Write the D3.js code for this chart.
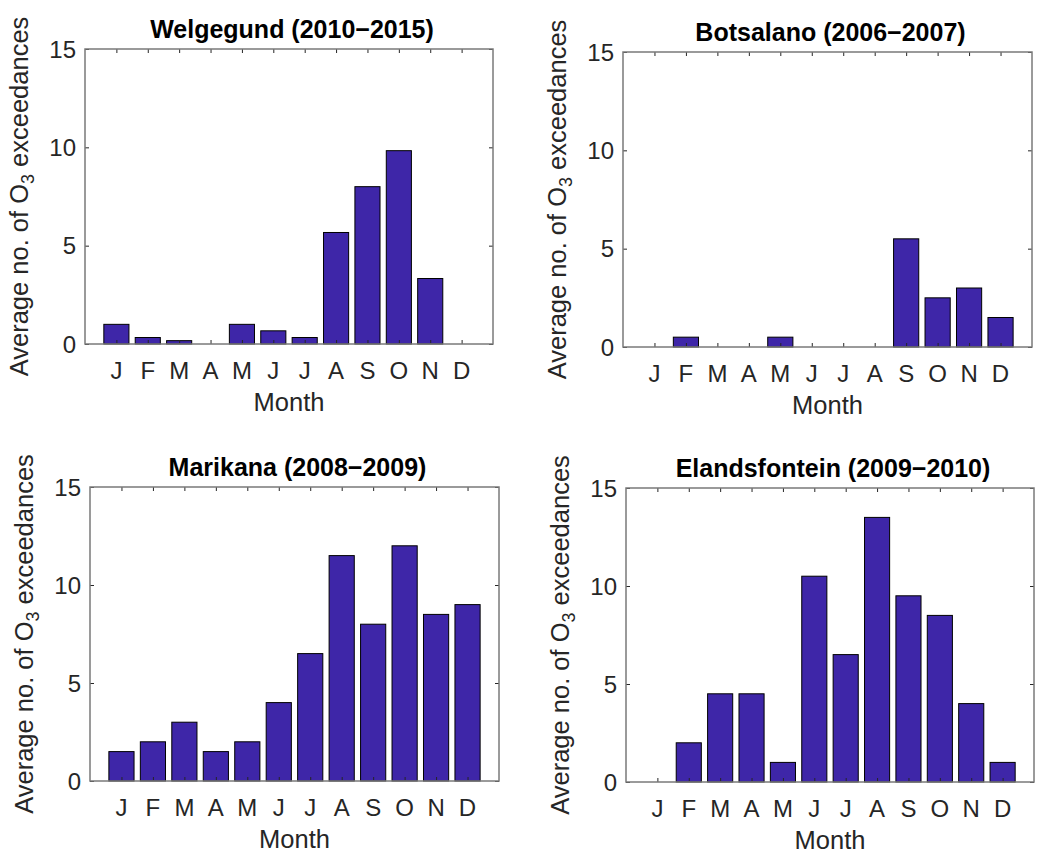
<!DOCTYPE html>
<html>
<head>
<meta charset="utf-8">
<script src="https://cdn.jsdelivr.net/npm/d3@7"></script>
<style>
  html, body { margin: 0; padding: 0; background: #fff; }
  svg { display: block; }
  text { font-family: "Liberation Sans", Arial, Helvetica, sans-serif; }
</style>
</head>
<body>
<svg id="chart" width="1050" height="861"></svg>
<script>
// ---- data ----
const months = ["J","F","M","A","M","J","J","A","S","O","N","D"];
const welgegund     = [1, 0.33, 0.17, 0, 1, 0.67, 0.33, 5.67, 8, 9.83, 3.33, 0];
const botsalano     = [0, 0.5, 0, 0, 0.5, 0, 0, 0, 5.5, 2.5, 3, 1.5];
const marikana      = [1.5, 2, 3, 1.5, 2, 4, 6.5, 11.5, 8, 12, 8.5, 9];
const elandsfontein = [0, 2, 4.5, 4.5, 1, 10.5, 6.5, 13.5, 9.5, 8.5, 4, 1];
const titles = ["Welgegund (2010\u22122015)", "Botsalano (2006\u22122007)",
                "Marikana (2008\u22122009)", "Elandsfontein (2009\u22122010)"];
const yTicks = [0, 5, 10, 15];
const xLabel = "Month";

// ---- layout ----
const panels = [
  { values: welgegund,     title: titles[0], left: 85,  right: 493,  top: 49,  bottom: 344 },
  { values: botsalano,     title: titles[1], left: 623, right: 1032, top: 52,  bottom: 347 },
  { values: marikana,      title: titles[2], left: 90,  right: 499,  top: 487, bottom: 781 },
  { values: elandsfontein, title: titles[3], left: 626, right: 1034, top: 488, bottom: 782 }
];

const svg = d3.select("#chart");
const barColor = "#3E26A8";
const axisColor = "#262626";
const boxColor = "#7a7a7a";
const tickFont = 24, labelFont = 25.5, titleFont = 25;

panels.forEach(p => {
  const x = d3.scaleLinear().domain([0, 13]).range([p.left, p.right]);
  const y = d3.scaleLinear().domain([0, 15]).range([p.bottom, p.top]);
  const g = svg.append("g");
  const data = p.values.map((v, i) => ({ m: months[i], i: i + 1, v }));

  // bars
  g.selectAll("rect.bar").data(data.filter(d => d.v > 0)).join("rect")
    .attr("class", "bar")
    .attr("x", d => x(d.i - 0.4))
    .attr("width", d => x(d.i + 0.4) - x(d.i - 0.4))
    .attr("y", d => y(d.v))
    .attr("height", d => y(0) - y(d.v))
    .attr("fill", barColor)
    .attr("stroke", "#000")
    .attr("stroke-width", 1);

  // axes (ticks inward)
  const xb = d3.axisBottom(x).tickValues(d3.range(1, 13)).tickSize(-4).tickFormat("");
  const xt = d3.axisTop(x).tickValues(d3.range(1, 13)).tickSize(-4).tickFormat("");
  const yl = d3.axisLeft(y).tickValues(yTicks).tickSize(-4).tickFormat("");
  const yr = d3.axisRight(y).tickValues(yTicks).tickSize(-4).tickFormat("");
  [[xb, `translate(0,${p.bottom})`], [xt, `translate(0,${p.top})`],
   [yl, `translate(${p.left},0)`], [yr, `translate(${p.right},0)`]].forEach(([ax, tr]) => {
    const a = g.append("g").attr("transform", tr).call(ax);
    a.select(".domain").remove();
    a.selectAll(".tick line").attr("stroke", axisColor).attr("stroke-width", 1);
  });

  // box
  g.append("rect")
    .attr("x", p.left).attr("y", p.top)
    .attr("width", p.right - p.left).attr("height", p.bottom - p.top)
    .attr("fill", "none").attr("stroke", boxColor).attr("stroke-width", 1.5);

  // x tick labels
  g.selectAll("text.xtick").data(data).join("text")
    .attr("class", "xtick")
    .attr("x", d => x(d.i)).attr("y", p.bottom + 35)
    .attr("text-anchor", "middle")
    .attr("font-size", tickFont).attr("fill", axisColor)
    .text(d => d.m);

  // y tick labels
  g.selectAll("text.ytick").data(yTicks).join("text")
    .attr("class", "ytick")
    .attr("x", p.left - 9).attr("y", d => y(d)).attr("dy", "0.36em")
    .attr("text-anchor", "end")
    .attr("font-size", tickFont).attr("fill", axisColor)
    .text(d => d);

  // x label
  g.append("text")
    .attr("x", (p.left + p.right) / 2).attr("y", p.bottom + 67)
    .attr("text-anchor", "middle")
    .attr("font-size", labelFont).attr("fill", axisColor)
    .text(xLabel);

  // y label
  const yc = (p.top + p.bottom) / 2;
  const yt = g.append("text")
    .attr("transform", `translate(${p.left - 57},${yc}) rotate(-90)`)
    .attr("text-anchor", "middle")
    .attr("font-size", labelFont).attr("fill", axisColor);
  yt.append("tspan").text("Average no. of O");
  yt.append("tspan").attr("font-size", labelFont * 0.7).attr("dy", 6).text("3");
  yt.append("tspan").attr("dy", -6).text(" exceedances");

  // title
  g.append("text")
    .attr("x", (p.left + p.right) / 2 + 3).attr("y", p.top - 11)
    .attr("text-anchor", "middle")
    .attr("font-size", titleFont).attr("font-weight", "bold").attr("fill", "#000")
    .text(p.title);
});
</script>
</body>
</html>
